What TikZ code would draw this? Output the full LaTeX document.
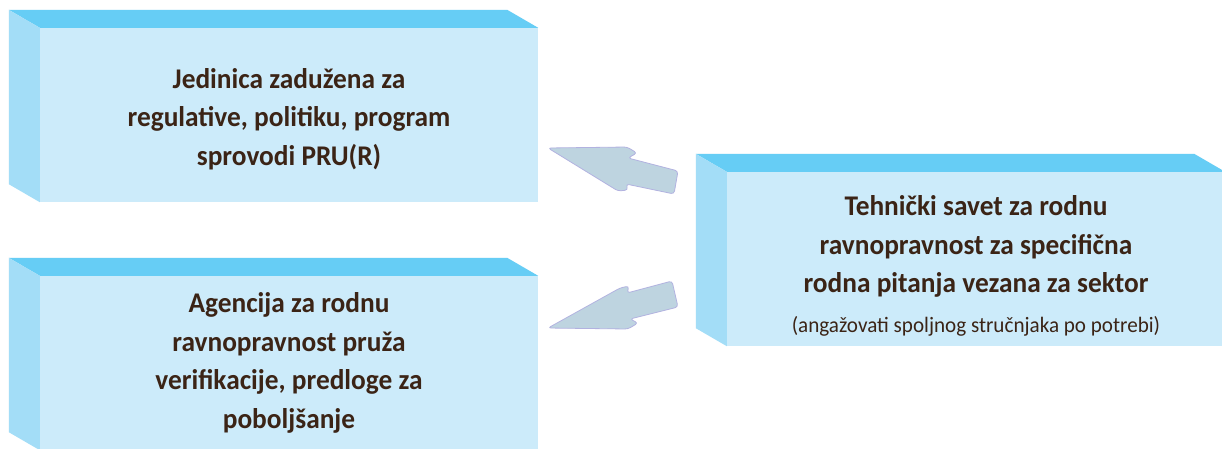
\documentclass[tikz,border=0pt]{standalone}
\usepackage{fontspec}
\setmainfont{Carlito}
\newfontfamily\boxfont[FakeStretch=0.96]{Carlito}
\usetikzlibrary{calc}
\definecolor{frontc}{RGB}{204,235,250}
\definecolor{topc}{RGB}{102,205,245}
\definecolor{sidec}{RGB}{163,221,247}
\definecolor{txtc}{RGB}{59,36,22}
\definecolor{arrowfill}{RGB}{190,212,224}
\definecolor{arrowline}{RGB}{178,178,224}
\tikzset{
  face/.style={minimum width=498pt, minimum height=174pt, inner sep=0pt,
    fill=frontc},
  boxtext/.style={text=txtc, align=center, inner sep=0pt,
    font=\boxfont\fontsize{28.5}{38.5}\selectfont\bfseries},
  topface/.style={fill=topc},
  sideface/.style={fill=sidec},
  bigarrow/.style={fill=arrowfill, draw=arrowline, line width=0.8pt,
    rounded corners=3pt, line join=round},
}
\newcommand{\boxsides}[1]{%
  \fill[topface] (#1.north west) -- ++(-31,-18) -- ($(#1.north east)+(-31,-18)$) -- (#1.north east) -- cycle;
  \fill[sideface] (#1.north west) -- ++(-31,-18) -- ($(#1.south west)+(-31,-18)$) -- (#1.south west) -- cycle;}
\begin{document}
\begin{tikzpicture}[x=1pt,y=-1pt]
\useasboundingbox (0,0) rectangle (1222,448);
\clip (0,0) rectangle (1222,448);
\fill[white] (0,0) rectangle (1222,448);

\node[face] (b1) at (289,115) {};
\boxsides{b1}
\node[boxtext] (t1) at (289,119) {Jedinica zadužena za\\regulative, politiku, program\\sprovodi PRU(R)};
\node[face] (b2) at (289,363) {};
\boxsides{b2}
\node[boxtext] (t2) at (289,363) {Agencija za rodnu\\ravnopravnost pruža\\verifikacije, predloge za\\poboljšanje};
\node[face] (b3) at (976,259) {};
\boxsides{b3}
\node[boxtext] (t3) at (976,266) {Tehnički savet za rodnu\\ravnopravnost za specifična\\rodna pitanja vezana za sektor\\[1pt]{\fontsize{22}{38.5}\selectfont\mdseries (angažovati spoljnog stručnjaka po potrebi)}};

% arrows from b3 to b1 and b2
\draw[bigarrow] (548,148) -- (627,147) -- (637,153) -- (628,158) -- (678,171) -- (674,194) -- (626,184) -- (628,190) -- (618,191) -- cycle;
\draw[bigarrow] (548,328) -- (620,288) -- (629,286) -- (627,293) -- (672,281) -- (678,307) -- (630,319) -- (638,323) -- (628,329) -- cycle;
\end{tikzpicture}
\end{document}
